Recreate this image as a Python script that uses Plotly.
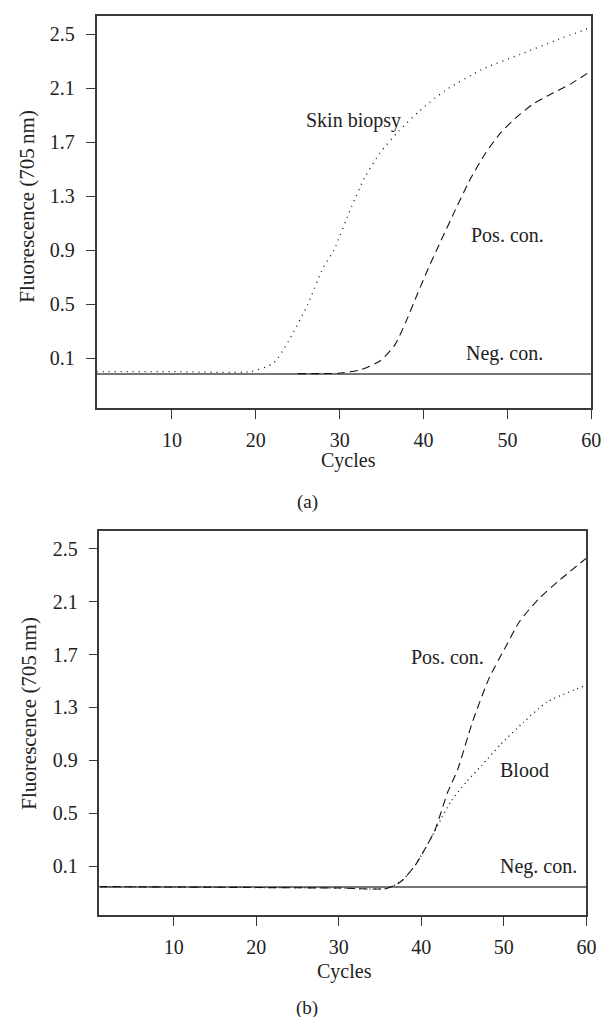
import plotly.graph_objects as go

W, H = 611, 1017

# ---------------- data ----------------
# Panel (a)
skin_cycles = [1, 10, 19.4, 22.1, 23.9, 26.2, 28.0, 29.3, 31.4, 33.0, 34.8, 37.0, 39.5, 42.5, 47.0, 51.5, 56.0, 60.0]
skin_fluor = [0.0, 0.0, 0.0, 0.063, 0.226, 0.50, 0.767, 0.90, 1.22, 1.44, 1.62, 1.78, 1.93, 2.08, 2.24, 2.35, 2.46, 2.55]

posA_cycles = [25, 29.8, 32.5, 34.8, 36.6, 37.9, 39.3, 40.6, 42.0, 43.8, 45.6, 47.4, 49.2, 51.0, 53.0, 55.0, 57.5, 60.0]
posA_fluor = [-0.015, -0.012, 0.013, 0.078, 0.20, 0.37, 0.58, 0.77, 0.96, 1.20, 1.43, 1.62, 1.77, 1.88, 1.98, 2.05, 2.13, 2.23]

negA_cycles = [1, 60]
negA_fluor = [-0.018, -0.018]

# Panel (b)
posB_cycles = [1, 10, 20, 30, 35.8, 37.6, 39.3, 40.4, 41.6, 42.3, 43.2, 44.4, 46.2, 48.2, 50.1, 51.9, 54.2, 56.5, 60.0]
posB_fluor = [-0.055, -0.058, -0.062, -0.066, -0.069, -0.013, 0.11, 0.225, 0.364, 0.49, 0.66, 0.83, 1.19, 1.52, 1.745, 1.95, 2.12, 2.25, 2.43]

blood_cycles = [1, 10, 20, 30, 35.8, 37.6, 39.3, 40.4, 41.6, 42.5, 43.6, 45.5, 47.3, 49.6, 52.4, 55.2, 60.0]
blood_fluor = [-0.055, -0.058, -0.062, -0.066, -0.069, -0.013, 0.11, 0.225, 0.36, 0.47, 0.59, 0.74, 0.86, 1.02, 1.19, 1.34, 1.47]

negB_cycles = [1, 60]
negB_fluor = [-0.058, -0.058]

x_ticks = [10, 20, 30, 40, 50, 60]
y_ticks = [0.1, 0.5, 0.9, 1.3, 1.7, 2.1, 2.5]
y_ticktext = ["0.1", "0.5", "0.9", "1.3", "1.7", "2.1", "2.5"]

# ---------------- figure ----------------
FONT = "Liberation Serif, Times New Roman, serif"
INK = "#222222"
FRAME = "#3a3a3a"

fig = go.Figure()

def add(xs, ys, dash, xa, ya, color="#111111", width=1.1):
    fig.add_trace(go.Scatter(x=xs, y=ys, mode="lines", xaxis=xa, yaxis=ya,
                             line=dict(color=color, width=width, dash=dash, shape="spline", smoothing=0.6),
                             showlegend=False, hoverinfo="skip"))

add(negA_cycles, negA_fluor, "solid", "x", "y", color="#4a4a4a", width=1.6)
add(skin_cycles, skin_fluor, "1px,5px", "x", "y", width=1.3)
add(posA_cycles, posA_fluor, "8px,5px", "x", "y", width=1.1)

add(negB_cycles, negB_fluor, "solid", "x2", "y2", color="#4a4a4a", width=1.6)
add(blood_cycles, blood_fluor, "1px,4px", "x2", "y2", width=1.3)
add(posB_cycles, posB_fluor, "8px,5px", "x2", "y2", width=1.1)

def xaxis(domain, anchor):
    return dict(domain=domain, anchor=anchor, range=[1, 60], tickvals=x_ticks,
                ticks="outside", ticklen=9, tickwidth=1.3, tickcolor=FRAME,
                showline=True, linecolor=FRAME, linewidth=1.6, mirror=True,
                showgrid=False, zeroline=False, ticklabelstandoff=4,
                tickfont=dict(family=FONT, size=20, color=INK))

def yaxis(domain, anchor):
    return dict(domain=domain, anchor=anchor, range=[-0.27, 2.635], tickvals=y_ticks, ticktext=y_ticktext,
                ticks="outside", ticklen=9, tickwidth=1.3, tickcolor=FRAME,
                showline=True, linecolor=FRAME, linewidth=1.6, mirror=True,
                showgrid=False, zeroline=False, ticklabelstandoff=7,
                tickfont=dict(family=FONT, size=20, color=INK))

fig.update_layout(
    width=W, height=H,
    margin=dict(l=0, r=0, t=0, b=0),
    paper_bgcolor="white", plot_bgcolor="white",
    xaxis=xaxis([90 / W, 593 / W], "y"),
    yaxis=yaxis([1 - 400 / H, 1 - 8 / H], "x"),
    xaxis2=xaxis([93 / W, 588 / W], "y2"),
    yaxis2=yaxis([1 - 907 / H, 1 - 523 / H], "x2"),
)

def note(text, x, y, xref, yref, size=20, angle=0):
    fig.add_annotation(text=text, x=x, y=y, xref=xref, yref=yref, showarrow=False,
                       textangle=angle, xanchor="center", yanchor="middle", borderpad=0,
                       font=dict(family=FONT, size=size, color=INK))

# curve labels
note("Skin biopsy", 31.6, 1.86, "x", "y")
note("Pos. con.", 50.0, 1.01, "x", "y")
note("Neg. con.", 49.6, 0.137, "x", "y")
note("Pos. con.", 43.2, 1.685, "x2", "y2")
note("Blood", 52.5, 0.825, "x2", "y2")
note("Neg. con.", 54.2, 0.10, "x2", "y2")

# axis titles and captions
note("Fluorescence (705\u2009nm)", 19 / W, 1 - 198 / H, "paper", "paper", size=21, angle=-90)
note("Fluorescence (705\u2009nm)", 21 / W, 1 - 705 / H, "paper", "paper", size=21, angle=-90)
note("Cycles", 346 / W, 1 - 453 / H, "paper", "paper")
note("Cycles", 342 / W, 1 - 963 / H, "paper", "paper")
note("(a)", 304 / W, 1 - 494 / H, "paper", "paper", size=19)
note("(b)", 304 / W, 1 - 1000 / H, "paper", "paper", size=19)

fig.write_html("out.html")
